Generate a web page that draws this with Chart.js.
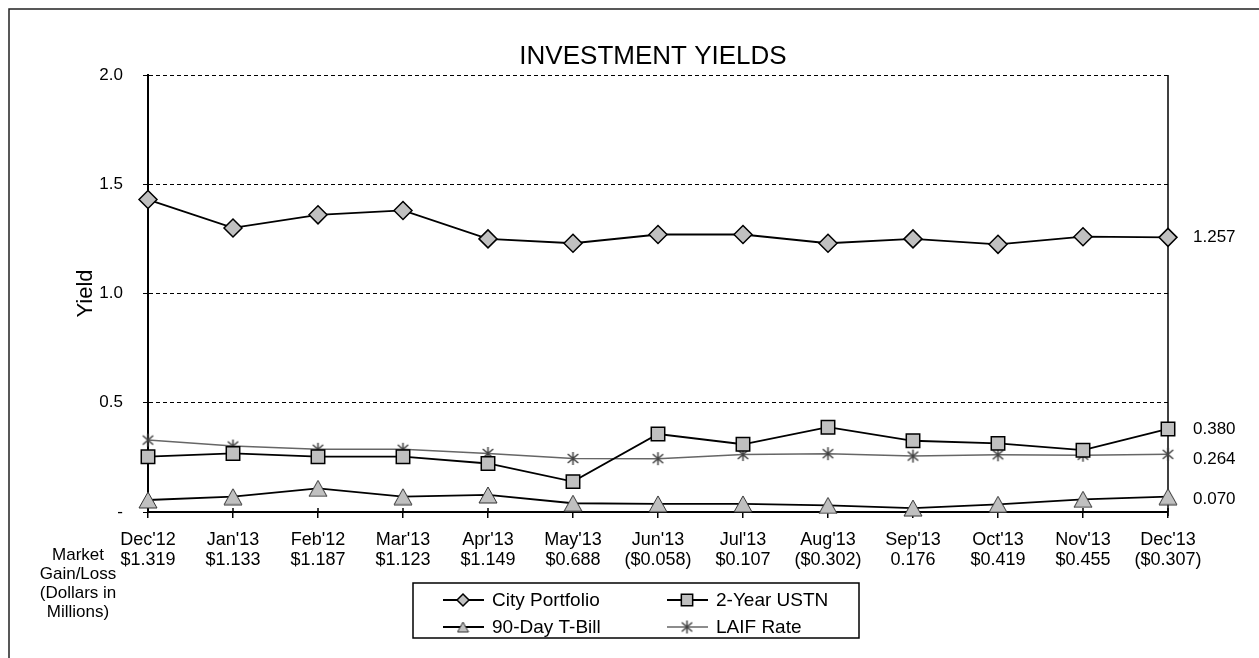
<!DOCTYPE html>
<html>
<head>
<meta charset="utf-8">
<script src="https://cdn.jsdelivr.net/npm/chart.js@4.4.0/dist/chart.umd.min.js"></script>
<style>
  html, body { margin: 0; padding: 0; background: #fff; }
  canvas { display: block; }
</style>
</head>
<body>
<canvas id="yields" width="1259" height="658"></canvas>
<script>
// values
const months = ["Dec'12", "Jan'13", "Feb'12", "Mar'13", "Apr'13", "May'13", "Jun'13", "Jul'13", "Aug'13", "Sep'13", "Oct'13", "Nov'13", "Dec'13"];
const gainLoss = ["$1.319", "$1.133", "$1.187", "$1.123", "$1.149", "$0.688", "($0.058)", "$0.107", "($0.302)", "0.176", "$0.419", "$0.455", "($0.307)"];
const cityPortfolio = [1.43, 1.30, 1.36, 1.38, 1.25, 1.23, 1.27, 1.27, 1.23, 1.25, 1.225, 1.26, 1.257];
const ustn2yr = [0.253, 0.268, 0.253, 0.253, 0.222, 0.139, 0.357, 0.31, 0.388, 0.326, 0.314, 0.283, 0.380];
const tBill90 = [0.055, 0.07, 0.108, 0.07, 0.078, 0.04, 0.037, 0.037, 0.03, 0.018, 0.035, 0.058, 0.070];
const laifRate = [0.329, 0.302, 0.287, 0.287, 0.268, 0.245, 0.244, 0.263, 0.267, 0.256, 0.262, 0.26, 0.264];
const yTicks = [0, 0.5, 1, 1.5, 2];
const sideNote = ["Market", "Gain/Loss", "(Dollars in", "Millions)"];

const FONT = "'Liberation Sans', Arial, sans-serif";
const GRAY = "#c0c0c0";
Chart.defaults.font.family = FONT;
Chart.defaults.color = "#000";

// Excel-like markers that Chart.js lacks: centred triangle and 6-arm asterisk
function triangleMark(w, h) {
  const c = document.createElement("canvas");
  c.width = w + 2; c.height = h + 2;
  const g = c.getContext("2d");
  g.beginPath();
  g.moveTo(c.width / 2, 1);
  g.lineTo(w + 1, h + 1);
  g.lineTo(1, h + 1);
  g.closePath();
  g.fillStyle = GRAY;
  g.fill();
  g.strokeStyle = "#333";
  g.lineWidth = 1;
  g.stroke();
  return c;
}
function asteriskMark(s) {
  const c = document.createElement("canvas");
  c.width = s + 2; c.height = s + 2;
  const g = c.getContext("2d");
  const m = c.width / 2;
  g.strokeStyle = "#404040";
  g.lineWidth = 1.5;
  g.beginPath();
  g.moveTo(m, 1); g.lineTo(m, s + 1);
  g.moveTo(1 + s * 0.1, 1 + s * 0.15); g.lineTo(s + 1 - s * 0.1, s + 1 - s * 0.15);
  g.moveTo(s + 1 - s * 0.1, 1 + s * 0.15); g.lineTo(1 + s * 0.1, s + 1 - s * 0.15);
  g.stroke();
  return c;
}

const datasets = [
  { label: "City Portfolio", data: cityPortfolio, borderColor: "#000", borderWidth: 1.8,
    pointStyle: "rectRot", pointRadius: 9, pointBackgroundColor: GRAY, pointBorderColor: "#000", pointBorderWidth: 1.5,
    legendStyle: "rectRot", legendRadius: 6, nudge: 0 },
  { label: "2-Year USTN", data: ustn2yr, borderColor: "#000", borderWidth: 1.8,
    pointStyle: "rect", pointRadius: 9.5, pointBackgroundColor: GRAY, pointBorderColor: "#000", pointBorderWidth: 1.5,
    legendStyle: "rect", legendRadius: 8, nudge: 0 },
  { label: "90-Day T-Bill", data: tBill90, borderColor: "#000", borderWidth: 1.8,
    pointStyle: triangleMark(18, 16), pointRadius: 9,
    legendStyle: triangleMark(11, 10), legendRadius: 5, nudge: 3 },
  { label: "LAIF Rate", data: laifRate, borderColor: "#666", borderWidth: 1.5,
    pointStyle: asteriskMark(13), pointRadius: 7,
    legendStyle: asteriskMark(13), legendRadius: 7, nudge: 5 },
];
datasets.forEach((d) => { d.clip = false; d.tension = 0; d.fill = false; });

// extra drawing: frame, title, right axis, end labels, side note, legend
const decor = {
  id: "decor",
  beforeDatasetsDraw(chart) {
    const { ctx, chartArea: a } = chart;
    ctx.save();
    ctx.strokeStyle = "#000";
    ctx.lineWidth = 1.5;
    ctx.beginPath();
    ctx.moveTo(a.right, a.top);
    ctx.lineTo(a.right, a.bottom + 4);
    ctx.stroke();
    // x ticks also poke a little above the axis
    const x = chart.scales.x;
    months.forEach((m, i) => {
      const px = x.getPixelForTick(i);
      ctx.beginPath();
      ctx.moveTo(px, a.bottom - 4);
      ctx.lineTo(px, a.bottom);
      ctx.stroke();
    });
    ctx.restore();
  },
  afterDraw(chart) {
    const { ctx, chartArea: a } = chart;
    const y = chart.scales.y;
    ctx.save();

    // outer frame (cut at right and bottom in the original)
    ctx.strokeStyle = "#222";
    ctx.lineWidth = 1.5;
    ctx.beginPath();
    ctx.moveTo(9, 658);
    ctx.lineTo(9, 9);
    ctx.lineTo(1259, 9);
    ctx.stroke();

    ctx.fillStyle = "#000";
    ctx.font = `26px ${FONT}`;
    ctx.textAlign = "center";
    ctx.textBaseline = "middle";
    ctx.fillText("INVESTMENT YIELDS", 653, 57);

    // last value labels
    ctx.font = `17px ${FONT}`;
    ctx.textAlign = "left";
    chart.data.datasets.forEach((d) => {
      const v = d.data[d.data.length - 1];
      ctx.fillText(v.toFixed(3), a.right + 25, y.getPixelForValue(v) + d.nudge);
    });

    ctx.textAlign = "center";
    sideNote.forEach((t, i) => ctx.fillText(t, 78, 555 + i * 19));

    // legend box
    ctx.strokeStyle = "#000";
    ctx.lineWidth = 1.5;
    ctx.strokeRect(413, 583, 446, 55);
    ctx.font = `19px ${FONT}`;
    ctx.textAlign = "left";
    chart.data.datasets.forEach((d, i) => {
      const x0 = i % 2 === 0 ? 443 : 667;
      const yy = i < 2 ? 600 : 627;
      ctx.strokeStyle = d.borderColor;
      ctx.lineWidth = d.borderWidth;
      ctx.beginPath();
      ctx.moveTo(x0, yy);
      ctx.lineTo(x0 + 41, yy);
      ctx.stroke();
      ctx.fillStyle = d.pointBackgroundColor || GRAY;
      ctx.strokeStyle = d.pointBorderColor || "#000";
      ctx.lineWidth = d.pointBorderWidth || 1;
      Chart.helpers.drawPoint(ctx, { pointStyle: d.legendStyle, radius: d.legendRadius, rotation: 0, borderWidth: d.pointBorderWidth || 0 }, x0 + 20, yy);
      ctx.fillStyle = "#000";
      ctx.fillText(d.label, x0 + 49, yy + 1);
    });
    ctx.restore();
  },
};

new Chart(document.getElementById("yields"), {
  type: "line",
  data: { labels: months.map((m, i) => [m, gainLoss[i]]), datasets },
  options: {
    responsive: false,
    animation: false,
    devicePixelRatio: 1,
    layout: { padding: { top: 75, right: 91, left: 0, bottom: 0 } },
    plugins: { legend: { display: false }, tooltip: { enabled: false }, title: { display: false } },
    scales: {
      x: {
        offset: false,
        grid: { drawOnChartArea: false, drawTicks: true, tickLength: 6, color: "#000", lineWidth: 1.5 },
        border: { color: "#000", width: 2 },
        ticks: { font: { size: 18, lineHeight: 1.1 }, color: "#000", padding: 12, maxRotation: 0, autoSkip: false },
        afterFit: (s) => { s.height = 146; },
      },
      y: {
        min: 0,
        max: 2,
        afterBuildTicks: (s) => { s.ticks = yTicks.map((v) => ({ value: v })); },
        grid: {
          color: (c) => (c.tick && c.tick.value === 0 ? "rgba(0,0,0,0)" : "#000"),
          lineWidth: 1,
          tickLength: 5,
          tickColor: "#000",
        },
        border: { color: "#000", width: 2, dash: [4, 3] },
        ticks: { font: { size: 17 }, color: "#000", padding: 20, callback: (v) => (v === 0 ? "-" : v.toFixed(1)) },
        title: { display: true, text: "Yield", font: { size: 22 }, color: "#000", padding: { top: 73, bottom: 0 } },
        afterFit: (s) => { s.width = 148; },
      },
    },
  },
  plugins: [decor],
});
</script>
</body>
</html>
